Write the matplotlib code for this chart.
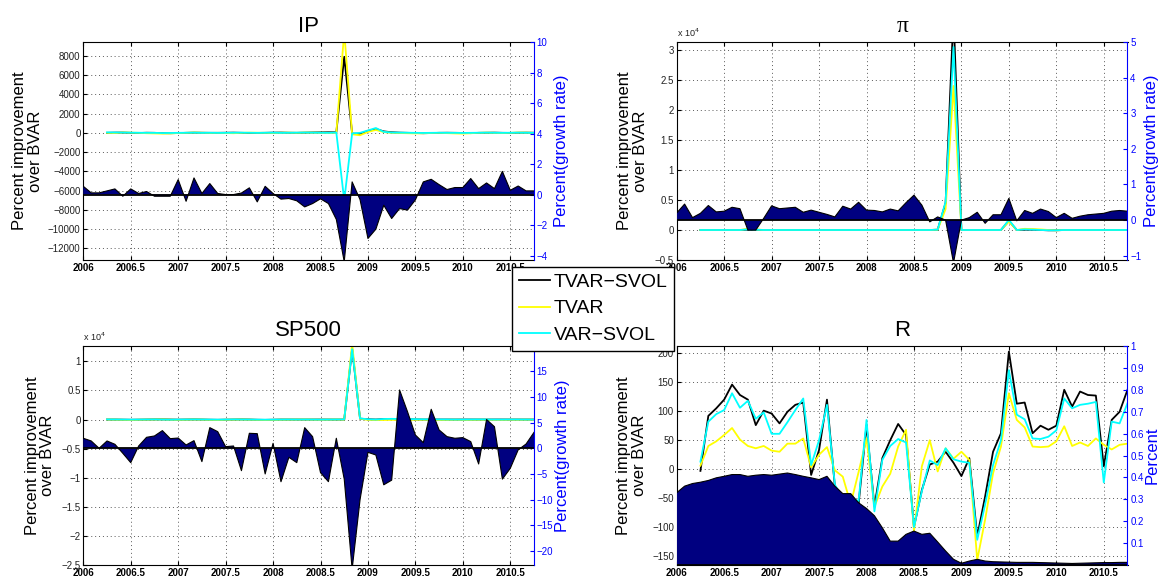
import numpy as np
import matplotlib
matplotlib.use('Agg')
import matplotlib.pyplot as plt
from matplotlib.lines import Line2D

plt.rcParams['font.family'] = ['Liberation Sans', 'DejaVu Sans']

# ---------------- data ----------------
# monthly observations 2006:01 .. 2010:10 ; forecasts start 2006:04
months = np.arange(58)
t = 2006 + months / 12.0
t_fc = t[3:]

x_ticks = [2006, 2006.5, 2007, 2007.5, 2008, 2008.5, 2009, 2009.5, 2010, 2010.5]
x_labels = ['2006', '2006.5', '2007', '2007.5', '2008', '2008.5', '2009', '2009.5', '2010', '2010.5']
series_names = ['TVAR\u2212SVOL', 'TVAR', 'VAR\u2212SVOL']

# --- IP ---
ip_data = [0.54, 0.11, 0.11, 0.24, 0.37, -0.11, 0.37, 0.07, 0.20, -0.11,
           -0.11, -0.11, 0.98, -0.44, 1.09, 0.07, 0.72, 0.07, 0.00, 0.00,
           0.10, 0.44, -0.48, 0.54, 0.07, -0.30, -0.26, -0.41, -0.81, -0.59,
           -0.28, -0.59, -1.63, -4.40, 0.83, -0.33, -2.88, -2.27, -0.70, -1.57,
           -0.92, -1.02, -0.35, 0.83, 1.00, 0.65, 0.33, 0.46, 0.46, 1.05,
           0.39, 0.76, 0.39, 1.52, 0.28, 0.56, 0.24, 0.24]
ip_tvar_svol = [0, 20, 30, 0, -20, 10, 0, -30, -40, -20, 0, 20, 10, 0, 0, 10, 20, 0, -20, -10,
                0, 20, 30, 10, 0, 20, 40, 50, 60, 60, 7900, -80, -100, 200, 400, 150, 60,
                20, 0, -20, -40, -20, 0, 10, 0, -10, -30, 0, 10, 20, 0, -10, 10, 20, 10]
ip_tvar = [0, -20, 40, 20, 0, -40, -60, -80, -60, -20, 0, 30, 10, -10, 0, -20, -40, 0, 20, 10,
           0, -10, 10, 20, 0, 30, 20, 10, 0, 0, 10500, -150, -250, 100, 300, 80, 0,
           -20, -40, -60, -40, -20, 0, -30, -60, -80, -40, 0, 20, 0, -20, 0, 30, 20, 0]
ip_var_svol = [50, 40, 30, 20, 10, 0, 0, -20, -10, 0, 10, 20, 0, 10, 0, 0, 10, 20, 10, 0,
               10, 20, 0, 10, 20, 30, 20, 10, 0, 30, -7000, -60, 0, 250, 500, 100, 30,
               20, 10, 0, -10, 0, 10, 0, 0, -10, 0, 10, 20, 10, 0, 10, 20, 10, 0]

# --- pi ---
pi_data = [0.20, 0.45, 0.07, 0.19, 0.41, 0.23, 0.25, 0.36, 0.32, -0.28,
           -0.28, 0.05, 0.40, 0.32, 0.34, 0.36, 0.22, 0.28, 0.22, 0.16,
           0.09, 0.39, 0.31, 0.50, 0.28, 0.27, 0.23, 0.31, 0.26, 0.49,
           0.70, 0.42, -0.05, 0.09, 0.00, -1.20, 0.00, 0.07, 0.22, -0.09,
           0.15, 0.15, 0.61, -0.02, 0.27, 0.19, 0.31, 0.24, 0.07, 0.19,
           0.05, 0.11, 0.15, 0.17, 0.19, 0.25, 0.27, 0.25]
pi_tvar_svol = [0, 0, 0, 0, 0, 0, 50, 30, 0, 0, 0, 0, 0, 0, 0, 0, 0, 0, 0, 0,
                0, 0, 0, 0, 0, 0, 0, 0, 0, 0, 50, 4500, 36000, 0, 0, 0, 0,
                0, 0, 1500, 0, 50, 50, 0, -50, -50, 0, 0, 0, 0, 0, 0, 0, 0, 0]
pi_tvar = [0, 0, 0, 0, 0, 0, 200, 100, 0, 0, 0, 0, 0, 0, 0, 0, 0, 0, 0, 0,
           0, 0, 0, 0, 0, 0, 0, 0, 0, 0, 50, 3500, 24000, 0, 0, 0, 0,
           0, 0, 1400, 0, 200, 150, 100, 0, -50, 0, 0, 0, 0, 0, 0, 0, 0, 0]
pi_var_svol = [0, 0, 0, 0, 0, 0, 100, 50, 0, 0, 0, 0, 0, 0, 0, 0, 0, 0, 0, 0,
               0, 0, 0, 0, 0, 0, 0, 0, 0, 0, 50, 4700, 30500, 0, 0, 0, 0,
               0, 0, 1700, 0, 100, 50, 0, -50, -50, 0, 0, 0, 0, 0, 0, 0, 0, 0]

# --- SP500 ---
sp_data = [1.95, 1.43, 0.00, 1.43, 0.78, -0.97, -2.79, 0.45, 2.14, 2.40,
           3.44, 1.88, 2.00, 0.65, 1.49, -2.59, 4.02, 3.24, 0.32, 0.45,
           -4.35, 2.92, 2.85, -4.99, 0.97, -6.50, -1.75, -2.79, 4.02, 2.27,
           -4.73, -6.49, 1.95, -6.00, -23.5, -10.0, -0.78, -1.30, -7.10, -6.20,
           11.35, 7.13, 2.59, 1.10, 7.59, 3.57, 2.27, 1.95, 2.08, 1.30,
           -3.05, 5.60, 4.20, -6.00, -3.90, -0.30, 0.84, 3.10]
sp_tvar_svol = [0, 0, -20, -40, -20, 0, 20, 30, 0, -20, 0, 20, 0, -30, -50, -20, 0, 20, 0, -40,
                -60, -30, 0, 0, 0, 0, 0, 0, 0, 0, 0, 12200, 150, 50, 0, 80, 80,
                60, 40, 20, 0, 0, 0, 0, 0, 0, 0, 0, 0, 0, 0, 0, 0, 0, 0]
sp_tvar = [0, -20, -50, -80, -40, -20, 0, 20, -30, -60, -30, 0, -20, -60, -80, -40, -20, 0, -30, -60,
           -80, -60, -30, -20, -10, 0, -20, -40, -20, 0, -20, 13000, 150, -60, -80, -80, -60,
           -60, -60, -40, -40, -60, -80, -60, -40, -60, -60, -40, -40, -60, -60, -40, -40, -30, -30]
sp_var_svol = [20, 10, 0, -10, 0, 10, 20, 0, -20, 0, 10, 20, 10, 0, -10, 0, 20, 10, 0, -10,
               -20, -10, 0, 10, 0, 10, 0, -10, 0, 10, 20, 12100, 200, 50, 0, 100, 120,
               100, 80, 60, 40, 20, 20, 10, 0, 0, 10, 20, 10, 0, 0, 10, 10, 0, 0]

# --- R ---
r_data = [0.330, 0.360, 0.372, 0.378, 0.386, 0.398, 0.405, 0.413, 0.413, 0.405,
          0.410, 0.413, 0.410, 0.415, 0.420, 0.413, 0.405, 0.398, 0.390, 0.405,
          0.360, 0.326, 0.326, 0.284, 0.258, 0.225, 0.170, 0.109, 0.109, 0.140,
          0.155, 0.140, 0.145, 0.105, 0.064, 0.026, 0.008, 0.018, 0.026, 0.018,
          0.015, 0.014, 0.013, 0.012, 0.012, 0.012, 0.011, 0.010, 0.009, 0.008,
          0.007, 0.008, 0.009, 0.010, 0.011, 0.011, 0.012, 0.012]
r_tvar_svol = [-3, 92, 105, 120, 146, 128, 120, 76, 101, 96, 79, 99, 111, 115, -10, 33, 120,
               -30, -50, -50, -60, 76, -64, 19, 50, 78, 59, -100, -36, 8, 13, 30, 11, -12, 19,
               -116, -47, 30, 62, 203, 113, 115, 62, 75, 68, 75, 137, 108, 134, 128, 127, 5,
               85, 99, 137]
r_tvar = [6, 40, 48, 59, 71, 51, 40, 36, 40, 32, 30, 44, 44, 53, 3, 25, 38,
          -2, -13, -60, -5, 53, -65, -30, -8, 39, 68, -107, 5, 50, -4, 36, 18, 30, 16,
          -157, -87, -7, 39, 131, 85, 72, 39, 38, 39, 48, 74, 40, 46, 40, 53, 42,
          34, 42, 44]
r_var_svol = [13, 82, 95, 102, 131, 106, 118, 87, 98, 61, 61, 81, 102, 122, 7, 50, 111,
              -27, -50, -50, -55, 85, -73, 16, 40, 52, 46, -100, -38, 15, 7, 36, 17, 13, 11,
              -122, -61, 7, 50, 171, 94, 86, 53, 52, 56, 67, 122, 105, 111, 113, 116, -23,
              82, 79, 114]

# ---------------- figure ----------------
W, H = 1158, 576
fig = plt.figure(figsize=(W / 100, H / 100), dpi=100)

NAVY = '#000080'
YEL = '#ffff00'
CYA = '#00ffff'
TICKC = '#222222'


def fmt_num(v, scale=1.0):
    s = '%g' % (v / scale)
    return s.replace('-', '\u2212')


def panel(px, title, fill, blk, yel, cya, ylim_l, yt_l, ylim_r, yt_r, rlabel,
          scale=1.0, ylab_x=-0.09, rlab_x=1.04, sci=False, title_font=None):
    l, tp, r, b = px
    ax = fig.add_axes([l / W, 1 - b / H, (r - l) / W, (b - tp) / H])
    ax.plot(t_fc, blk, color='k', lw=1.3)
    ax.plot(t_fc, yel, color=YEL, lw=1.3)
    ax.plot(t_fc, cya, color=CYA, lw=1.3)
    ax.set_xlim(2006, 2010.75)
    ax.set_ylim(*ylim_l)
    ax.set_xticks(x_ticks)
    ax.set_xticklabels(x_labels, fontsize=7, fontweight='bold')
    ax.set_yticks(yt_l)
    ax.set_yticklabels([fmt_num(v, scale) for v in yt_l], fontsize=7, color=TICKC)
    ax.grid(True, linestyle=(0, (1, 3)), color='0.35', lw=0.7)
    ax.tick_params(direction='in', length=3, top=True, right=False, pad=2)
    ax.spines['right'].set_visible(False)
    ax.set_ylabel('Percent improvement\nover BVAR', fontsize=12, linespacing=1.05)
    ax.yaxis.set_label_coords(ylab_x, 0.5)
    if title_font:
        ax.set_title(title, fontsize=17, pad=7, family=title_font)
    else:
        ax.set_title(title, fontsize=16, pad=7)
    if sci:
        ax.text(0.0, 1.015, r'x 10$^{4}$', transform=ax.transAxes, fontsize=6.5,
                ha='left', va='bottom', color=TICKC)

    ax2 = ax.twinx()
    ax2.fill_between(t, fill, 0, facecolor=NAVY, edgecolor='none', lw=0)
    ax2.plot(t, fill, color='k', lw=0.8)
    ax2.axhline(0, color='k', lw=1.3)
    ax2.set_ylim(*ylim_r)
    ax2.set_yticks(yt_r)
    ax2.set_yticklabels([fmt_num(v) for v in yt_r], fontsize=7, color='b')
    ax2.tick_params(axis='y', colors='b', direction='in', length=3, pad=2)
    for s in ['left', 'top', 'bottom']:
        ax2.spines[s].set_visible(False)
    ax2.spines['right'].set_color('b')
    ax2.set_ylabel(rlabel, color='b', fontsize=12)
    ax2.yaxis.set_label_coords(rlab_x, 0.5)
    return ax, ax2


panel((83.3, 42, 534, 260), 'IP', ip_data, ip_tvar_svol, ip_tvar, ip_var_svol,
      (-13200, 9430), list(range(-12000, 8001, 2000)),
      (-4.29, 10), list(range(-4, 11, 2)), 'Percent(growth rate)',
      ylab_x=-0.09, rlab_x=1.045)

panel((676.7, 42, 1127.5, 260), '\u03c0', pi_data, pi_tvar_svol, pi_tvar, pi_var_svol,
      (-5000, 31330), [-5000, 0, 5000, 10000, 15000, 20000, 25000, 30000],
      (-1.12, 5), list(range(-1, 6)), 'Percent(growth rate)',
      scale=1e4, ylab_x=-0.064, rlab_x=1.037, sci=True, title_font='Liberation Serif')

panel((83.3, 346, 534, 565), 'SP500', sp_data, sp_tvar_svol, sp_tvar, sp_var_svol,
      (-25000, 12640), [-25000, -20000, -15000, -10000, -5000, 0, 5000, 10000],
      (-22.7, 19.9), list(range(-20, 16, 5)), 'Percent(growth rate)',
      scale=1e4, ylab_x=-0.062, rlab_x=1.046, sci=True)

panel((676.7, 346, 1127.5, 565), 'R', r_data, r_tvar_svol, r_tvar, r_var_svol,
      (-165.5, 212.6), list(range(-150, 201, 50)),
      (0.0, 1.0), [0.1, 0.2, 0.3, 0.4, 0.5, 0.6, 0.7, 0.8, 0.9, 1.0], 'Percent',
      ylab_x=-0.066, rlab_x=1.039)

handles = [Line2D([], [], color='k', lw=1.3),
           Line2D([], [], color=YEL, lw=1.3),
           Line2D([], [], color=CYA, lw=1.3)]
leg = fig.legend(handles, series_names, loc='upper left',
                 bbox_to_anchor=(511.7 / W, 1 - 266.7 / H), fontsize=14,
                 frameon=True, fancybox=False, edgecolor='k', framealpha=1,
                 borderpad=0.35, handlelength=1.6, handletextpad=0.2,
                 labelspacing=0.45, borderaxespad=0)
leg.get_frame().set_linewidth(1.0)

fig.savefig('out.png', dpi=100)
